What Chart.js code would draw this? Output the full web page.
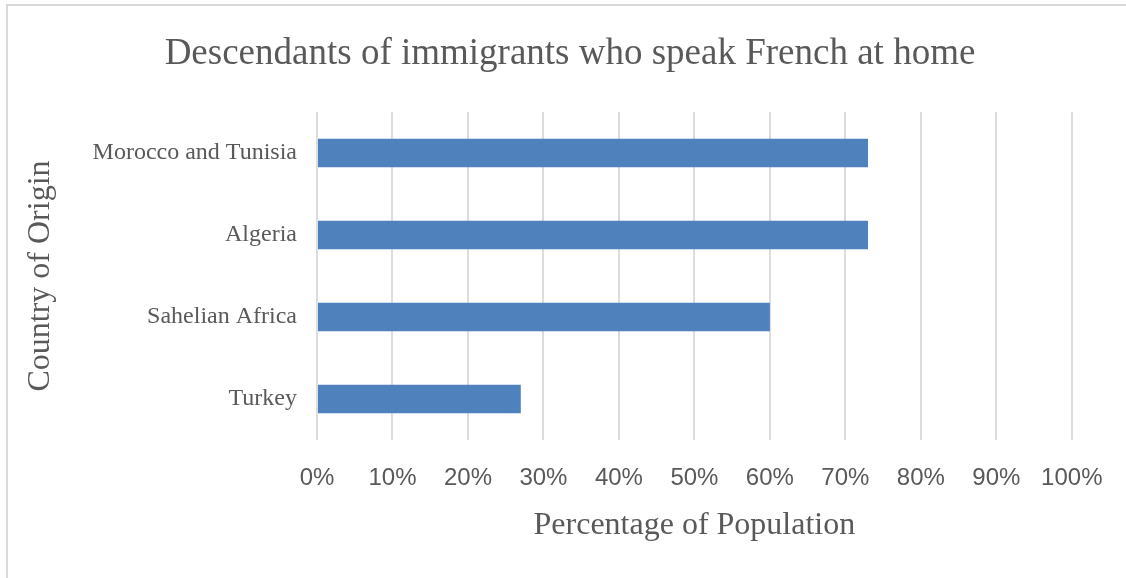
<!DOCTYPE html>
<html>
<head>
<meta charset="utf-8">
<script src="https://cdn.jsdelivr.net/npm/chart.js@4/dist/chart.umd.min.js"></script>
<style>
  html, body { margin: 0; padding: 0; background: #fff; }
  #wrap { position: relative; width: 1126px; height: 578px; overflow: hidden; }
  #frame {
    position: absolute; left: 6px; top: 4px; right: -10px; bottom: -10px;
    border-left: 2px solid #d9d9d9; border-top: 2px solid #d9d9d9;
    pointer-events: none;
  }
  canvas { position: absolute; left: 0; top: 0; }
</style>
</head>
<body>
<div id="wrap">
  <canvas id="chart" width="1126" height="578"></canvas>
  <div id="frame"></div>
</div>
<script>
// 国別データ（上から順に表示）
const countries = ['Morocco and Tunisia', 'Algeria', 'Sahelian Africa', 'Turkey'];
const frenchAtHome = [73, 73, 60, 27];
const tickValues = [0, 10, 20, 30, 40, 50, 60, 70, 80, 90, 100];

const textColor = '#595959';
const serif = 'Liberation Serif, Times New Roman, serif';
const sans = 'Liberation Sans, Arial, sans-serif';

const ctx = document.getElementById('chart').getContext('2d');
new Chart(ctx, {
    type: 'bar',
    data: {
        labels: countries,
        datasets: [{
            data: frenchAtHome,
            backgroundColor: '#4f81bd',
            borderWidth: 0,
            barPercentage: 0.35,
            categoryPercentage: 1
        }]
    },
    options: {
        indexAxis: 'y',
        responsive: false,
        animation: false,
        layout: {
            padding: { top: 0, left: 67, right: 53, bottom: 0 }
        },
        plugins: {
            legend: { display: false },
            tooltip: { enabled: false },
            title: {
                display: true,
                text: 'Descendants of immigrants who speak French at home',
                color: textColor,
                font: { family: serif, size: 37, weight: 'normal' },
                padding: { top: 32, bottom: 35.6 }
            }
        },
        scales: {
            x: {
                min: 0,
                max: 100,
                afterBuildTicks: scale => {
                    scale.ticks = tickValues.map(v => ({ value: v }));
                },
                afterFit: scale => { scale.height = 138; },
                grid: {
                    color: '#dcdcdc',
                    lineWidth: 2,
                    drawTicks: false
                },
                border: { display: false },
                ticks: {
                    color: textColor,
                    font: { family: sans, size: 24 },
                    padding: 23.5,
                    maxRotation: 0,
                    callback: v => v + '%'
                },
                title: {
                    display: true,
                    text: 'Percentage of Population',
                    color: textColor,
                    font: { family: serif, size: 32 },
                    padding: { top: 0, bottom: 32.8 }
                }
            },
            y: {
                afterFit: scale => { scale.width = 250; },
                grid: { display: false, drawTicks: false },
                border: { display: false },
                ticks: {
                    color: textColor,
                    font: { family: serif, size: 24 },
                    padding: 20
                },
                title: {
                    display: true,
                    text: 'Country of Origin',
                    color: textColor,
                    font: { family: serif, size: 32 },
                    // タイトルを軸ボックスの外側（左端寄り）に置く
                    padding: { top: -46, bottom: 0 }
                }
            }
        }
    }
});
</script>
</body>
</html>
